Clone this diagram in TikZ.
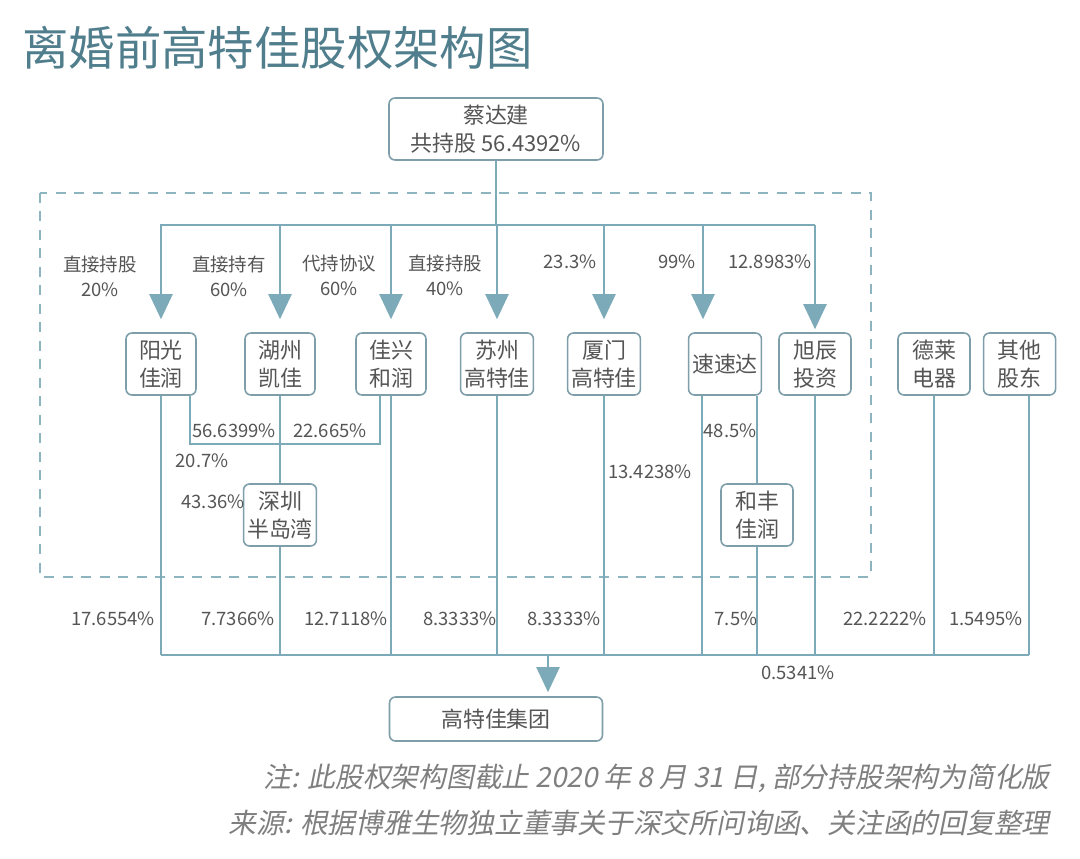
\documentclass[tikz,border=0pt]{standalone}
\usepackage{fontspec}
\setmainfont{Noto Sans CJK SC}
\newfontfamily\notefont[FakeSlant=0.2]{Noto Sans CJK SC}
\usepackage{tikz}
\usetikzlibrary{arrows.meta,positioning}
\usepackage{xcolor}
\definecolor{chartline}{HTML}{7CAAB8}
\definecolor{chartedge}{HTML}{7E9EAA}
\definecolor{charttext}{HTML}{555555}
\definecolor{charttitle}{HTML}{517E8D}
\definecolor{chartdash}{HTML}{8DB5BF}
\definecolor{chartnote}{HTML}{7F7F7F}
\tikzset{
  firmbox/.style={
    rounded corners=0.12cm,
    draw=chartedge,
    fill=white,
    line width=0.9pt,
    minimum width=1.44cm,
    minimum height=1.24cm,
    inner xsep=0.07cm,
    inner ysep=0pt,
    align=center,
    text=charttext,
    font=\fontsize{12.5}{16}\selectfont
  },
  widebox/.style={
    firmbox,
    minimum width=4.28cm
  },
  pct/.style={
    text=charttext,
    inner sep=0pt,
    align=center,
    font=\fontsize{10.5}{14.2}\selectfont
  },
  link/.style={
    draw=chartline,
    line width=1.2pt
  },
  arrow/.style={
    link,
    -{Triangle[length=0.5cm,width=0.46cm]},
    shorten >=0.26cm
  }
}

\begin{document}
\begin{tikzpicture}[x=0.02cm, y=-0.02cm]
\useasboundingbox[fill=white] (0,0) rectangle (1080,859);

% title
\node[anchor=west, inner sep=0pt, text=charttitle, font=\fontsize{26.4}{30}\selectfont] (title) at (22,48) {离婚前高特佳股权架构图};

% dashed frame
\draw[chartdash, line width=1.1pt, dash pattern=on 0.2cm off 0.17cm] (40,193) rectangle (871,577);

% top holder
\node[widebox] (cai) at (496,129) {蔡达建\\共持股 56.4392\%};

% first row
\node[firmbox, minimum width=1.4cm] (yang) at (161,364) {阳光\\佳润};
\node[firmbox, minimum width=1.4cm] (huzhou) at (280,364) {湖州\\凯佳};
\node[firmbox, minimum width=1.4cm] (jiaxing) at (391,364) {佳兴\\和润};
\node[firmbox] (suzhou) at (497,364) {苏州\\高特佳};
\node[firmbox] (xiamen) at (604,364) {厦门\\高特佳};
\node[firmbox] (susuda) at (725,364) {速速达};
\node[firmbox] (xuchen) at (815,364) {旭辰\\投资};
\node[firmbox] (delai) at (934,364) {德莱\\电器};
\node[firmbox, right=0.24cm of delai] (qita) {其他\\股东};

% second row
\node[firmbox] (shenzhen) at (280,515) {深圳\\半岛湾};
\node[firmbox] (hefeng) at (757,515) {和丰\\佳润};

% target
\node[widebox, minimum width=4.26cm, minimum height=0.88cm] (group) at (496,719) {高特佳集团};

% bus points
\coordinate (busL) at (160,225);
\coordinate (busR) at (815,225);
\coordinate (sA) at (703,225);
\coordinate (yR) at (190,444);
\coordinate (jL) at (380,444);
\coordinate (sL) at (702,655);
\coordinate (qR) at (1029,655);
\coordinate (bot) at (548,655);

% holder to bus
\draw[link] (cai) -- (cai |- busL);
\draw[link] (busL) -- (busR);
\foreach \n in {yang,huzhou,jiaxing,suzhou,xiamen}
  \draw[arrow] (\n |- busL) -- (\n.north);
\draw[arrow] (sA) -- (sA |- susuda.north);
\draw[arrow, shorten >=0.06cm] (busR) -- (xuchen.north);

% cross holdings
\draw[link] (yR |- yang.south) -- (yR) -- (jL) -- (jL |- jiaxing.south);
\draw[link] (huzhou) -- (shenzhen);
\draw[link] (hefeng |- susuda.south) -- (hefeng);

% down to the group bus
\foreach \n in {yang,shenzhen,jiaxing,suzhou,xiamen,hefeng,xuchen,delai}
  \draw[link] (\n) -- (\n |- bot);
\draw[link] (sL |- susuda.south) -- (sL);
\draw[link] (qR |- qita.south) -- (qR);
\draw[link] (yang |- bot) -- (qR);
\draw[arrow, shorten >=0.08cm] (bot) -- (bot |- group.north);

% share labels
\node[pct] (l1) at (100,276) {直接持股\\20\%};
\node[pct] (l2) at (229,276) {直接持有\\60\%};
\node[pct] (l3) at (339,275) {代持协议\\60\%};
\node[pct] (l4) at (445,275) {直接持股\\40\%};
\node[pct] (l5) at (570,262) {23.3\%};
\node[pct] (l6) at (677,262) {99\%};
\node[pct] (l7) at (770,262) {12.8983\%};
\node[pct] (l8) at (234,431) {56.6399\%};
\node[pct] (l9) at (330,431) {22.665\%};
\node[pct] (l10) at (202,461) {20.7\%};
\node[pct] (l11) at (213,502) {43.36\%};
\node[pct] (l12) at (730,431) {48.5\%};
\node[pct] (l13) at (650,472) {13.4238\%};
\node[pct] (b1) at (113,619) {17.6554\%};
\node[pct] (b2) at (238,619) {7.7366\%};
\node[pct] (b3) at (346,619) {12.7118\%};
\node[pct] (b4) at (460,619) {8.3333\%};
\node[pct] (b5) at (564,619) {8.3333\%};
\node[pct] (b6) at (736,619) {7.5\%};
\node[pct] (b7) at (885,619) {22.2222\%};
\node[pct] (b8) at (986,619) {1.5495\%};
\node[pct] (b9) at (798,673) {0.5341\%};

% footnote
\node[anchor=east, inner sep=0pt, text=chartnote, font=\fontsize{15.8}{18}\selectfont] (note) at (1050,778) {\notefont 注: 此股权架构图截止 2020 年 8 月 31 日, 部分持股架构为简化版};
\node[anchor=east, inner sep=0pt, text=chartnote, font=\fontsize{15.8}{18}\selectfont] (source) at (1050,823) {\notefont 来源: 根据博雅生物独立董事关于深交所问询函、关注函的回复整理};
\end{tikzpicture}
\end{document}
